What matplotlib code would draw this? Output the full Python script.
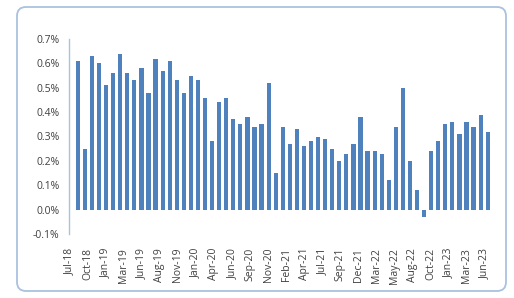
import numpy as np
import matplotlib
matplotlib.use("Agg")
import matplotlib.pyplot as plt
from matplotlib.patches import FancyBboxPatch
from matplotlib.transforms import IdentityTransform

# monthly values (%), Jul-18 .. May-23
values = [0.61, 0.25, 0.63, 0.60, 0.51, 0.56, 0.64, 0.56, 0.53, 0.58,
          0.48, 0.62, 0.57, 0.61, 0.53, 0.48, 0.55, 0.53, 0.46, 0.28,
          0.44, 0.46, 0.37, 0.35, 0.38, 0.34, 0.35, 0.52, 0.15, 0.34,
          0.27, 0.33, 0.26, 0.28, 0.30, 0.29, 0.25, 0.20, 0.23, 0.27,
          0.38, 0.24, 0.24, 0.23, 0.12, 0.34, 0.50, 0.20, 0.08, -0.03,
          0.24, 0.28, 0.35, 0.36, 0.31, 0.36, 0.34, 0.39, 0.32]

tick_labels = ["Jul-18", "Oct-18", "Jan-19", "Mar-19", "Jun-19", "Aug-19",
               "Nov-19", "Jan-20", "Apr-20", "Jun-20", "Sep-20", "Nov-20",
               "Feb-21", "Apr-21", "Jul-21", "Sep-21", "Dec-21", "Mar-22",
               "May-22", "Aug-22", "Oct-22", "Jan-23", "Mar-23", "Jun-23"]

y_ticks = [-0.1, 0.0, 0.1, 0.2, 0.3, 0.4, 0.5, 0.6, 0.7]

W, H = 514, 298
fig = plt.figure(figsize=(W / 100, H / 100), dpi=100)
plt.rcParams['font.family'] = ['Open Sans', 'DejaVu Sans']

# rounded chart frame
frame = FancyBboxPatch((17, H - 291), 489, 284,
                       boxstyle="round,pad=0,rounding_size=9",
                       transform=IdentityTransform(), facecolor="none",
                       edgecolor="#a9c2df", linewidth=1.3, zorder=0)
fig.patches.append(frame)

ax = fig.add_axes([69 / W, 1 - 234 / H, 424 / W, (234 - 39) / H])
ax.set_facecolor("none")

x = np.arange(len(values))
ax.bar(x, values, width=0.6, color="#4f81bd", zorder=2)

ax.set_xlim(-1.25, 58.75)
ax.set_ylim(-0.1, 0.7)
ax.set_yticks(y_ticks)
ax.set_yticklabels([f"{v:.1f}%" for v in y_ticks])

# labels are spread evenly along the axis
ax.set_xticks(np.linspace(-1.2, 57.6, len(tick_labels)))
ax.set_xticklabels(tick_labels, rotation=90)

ax.tick_params(axis="both", length=0, labelsize=7.5, colors="#404040")
ax.tick_params(axis="y", pad=7)
ax.tick_params(axis="x", pad=10)

for s in ["top", "right", "bottom"]:
    ax.spines[s].set_visible(False)
ax.spines["left"].set_color("#a9c2df")
ax.spines["left"].set_linewidth(1.0)

fig.savefig("out.png", dpi=100)
